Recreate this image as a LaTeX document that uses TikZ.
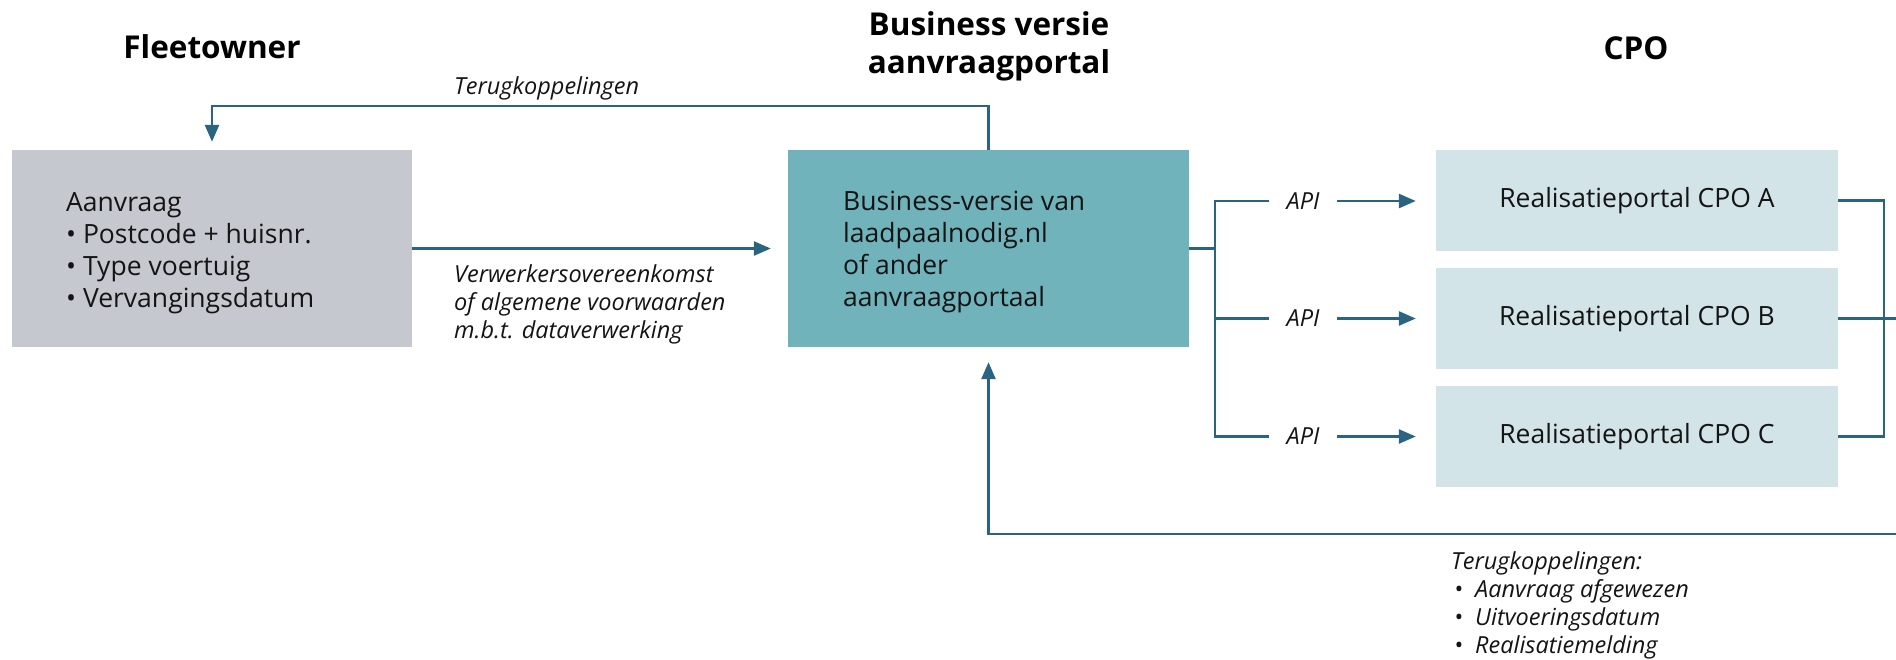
\documentclass[tikz,border=0pt]{standalone}
\usepackage{fontspec}
\setmainfont{Open Sans}
\usetikzlibrary{arrows.meta,calc}
\definecolor{lineC}{RGB}{43,100,128}
\definecolor{fleetC}{RGB}{197,200,207}
\definecolor{tealC}{RGB}{112,179,187}
\definecolor{cpoC}{RGB}{210,228,231}
\definecolor{txtC}{RGB}{20,20,20}
\tikzset{
  conn/.style={draw=lineC, line width=2.6pt},
  arr/.style={conn, -{Triangle[length=17pt,width=14pt]}},
  bigbox/.style={rectangle, inner sep=0pt, minimum width=401pt, minimum height=197pt},
  boxtext/.style={inner sep=0pt, align=left, anchor=north west,
     font=\fontsize{26.5}{32}\selectfont, text=txtC},
  cpobox/.style={rectangle, fill=cpoC, minimum width=402pt, minimum height=101pt,
     inner sep=0pt, font=\fontsize{26.5}{32}\selectfont, text=txtC},
  header/.style={font=\fontsize{31.5}{38}\selectfont\bfseries, align=center, text=black},
  lbl/.style={font=\fontsize{23.5}{28}\selectfont\itshape, align=left, text=txtC, inner sep=0pt},
  apilbl/.style={font=\fontsize{23.5}{28}\selectfont\itshape, text=txtC, inner sep=0pt, minimum width=68pt},
}
\begin{document}
\begin{tikzpicture}[x=1pt,y=-1pt]
\useasboundingbox (0,0) rectangle (1896,659);
% headers
\node[header] (hfleet) at (212,47) {Fleetowner};
\node[header] (hbus) at (989,46) {Business versie\\aanvraagportal};
\node[header] (hcpo) at (1636,48) {CPO};
% boxes
\node[bigbox, fill=fleetC, minimum width=400pt] (fleet) at (212,248.5) {};
\node[boxtext] (fleettxt) at (66,192)
  {Aanvraag\\\textbullet\ Postcode + huisnr.\\\textbullet\ Type voertuig\\\textbullet\ Vervangingsdatum};
\node[bigbox, fill=tealC] (teal) at (988.5,248.5) {};
\node[boxtext] (tealtxt) at (843,191)
  {Business-versie van\\laadpaalnodig.nl\\of ander\\aanvraagportaal};
\node[cpobox] (cpoA) at (1637,200.5) {Realisatieportal CPO A};
\node[cpobox] (cpoB) at (1637,318.5) {Realisatieportal CPO B};
\node[cpobox] (cpoC) at (1637,436.5) {Realisatieportal CPO C};
% top feedback
\coordinate (topline) at (988.5,106);
\draw[arr, shorten >=8pt] (teal.north) -- (topline) -| (fleet.north);
\node[lbl, anchor=base west] (fbtop) at (454,94) {Terugkoppelingen};
% main arrow
\draw[arr, shorten >=17pt] (fleet.east) -- (teal.west);
\node[lbl, anchor=north west] (agree) at (454,264)
  {Verwerkersovereenkomst\\of algemene voorwaarden\\m.b.t. dataverwerking};
% API branches
\coordinate (br) at (1215,248.5);
\node[apilbl] (apiA) at (1303,201) {API};
\node[apilbl] (apiB) at (1303,318.5) {API};
\node[apilbl] (apiC) at (1303,436.5) {API};
\draw[conn] (teal.east) -- (br);
\draw[conn] (apiA.west) -| (br) |- (apiC.west);
\draw[conn] (br |- apiB.west) -- (apiB.west);
\draw[arr, shorten >=20pt] (apiA.east) -- (apiA.east -| cpoA.west);
\draw[arr, shorten >=20pt] (apiB.east) -- (cpoB.west);
\draw[arr, shorten >=20pt] (apiC.east) -- (cpoC.west);
% right side bracket
\coordinate (rb) at (1884,318.5);
\coordinate (edgeB) at (1900,318.5);
\draw[conn] (cpoA.east) -| (rb) |- (cpoC.east);
\draw[conn] (cpoB.east) -- (edgeB);
% bottom feedback
\coordinate (edgeBot) at (1900,534);
\draw[arr, shorten >=15pt] (edgeBot) -| (teal.south);
\node[lbl, anchor=north west] (fbbot) at (1451,551)
  {Terugkoppelingen:\\
   \hspace*{3pt}\makebox[21pt][l]{\textbullet}Aanvraag afgewezen\\
   \hspace*{3pt}\makebox[21pt][l]{\textbullet}Uitvoeringsdatum\\
   \hspace*{3pt}\makebox[21pt][l]{\textbullet}Realisatiemelding};
\end{tikzpicture}
\end{document}
